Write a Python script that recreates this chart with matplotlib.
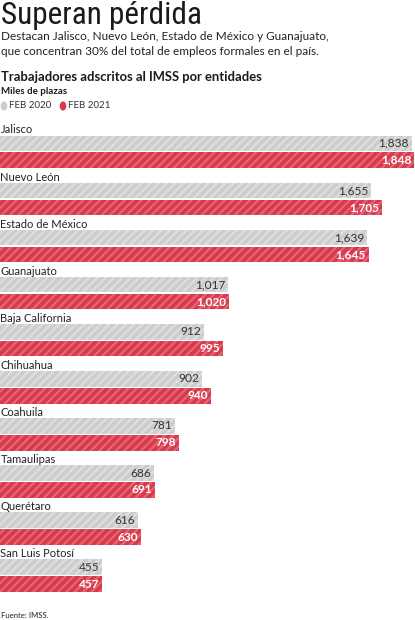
import matplotlib.pyplot as plt
from matplotlib import font_manager

# Trabajadores adscritos al IMSS (miles de plazas)
estados = ["Jalisco", "Nuevo León", "Estado de México", "Guanajuato",
           "Baja California", "Chihuahua", "Coahuila", "Tamaulipas",
           "Querétaro", "San Luis Potosí"]
feb_2020 = [1838, 1655, 1639, 1017, 912, 902, 781, 686, 616, 455]
feb_2021 = [1848, 1705, 1645, 1020, 995, 940, 798, 691, 630, 457]

GRAY = "#cdcdcd"
GRAY_HATCH = "#dedede"
RED = "#d83a4c"
RED_HATCH = "#e56676"
FONT = "Lato"

# pick a narrow face for the headline if one is installed
names = {f.name for f in font_manager.fontManager.ttflist}
TITLE_FONT = "DejaVu Sans"
for cand in ["Liberation Sans Narrow", "Roboto Condensed", "DejaVu Sans Condensed"]:
    if cand in names:
        TITLE_FONT = cand
        break

plt.rcParams["font.family"] = [FONT, "DejaVu Sans"]
plt.rcParams["hatch.linewidth"] = 1.6

W, H = 415, 620
fig = plt.figure(figsize=(W / 100, H / 100), dpi=100)
fig.patch.set_facecolor("white")

# headline block
fig.text(1 / W, 1 - 1 / H, "Superan pérdida", fontsize=22.5, va="top",
         family=TITLE_FONT, color="#1a1a1a")
fig.text(1 / W, 1 - 31 / H,
         "Destacan Jalisco, Nuevo León, Estado de México y Guanajuato,\n"
         "que concentran 30% del total de empleos formales en el país.",
         fontsize=8.5, va="top", linespacing=1.42, color="#222222")
fig.text(1 / W, 1 - 71 / H, "Trabajadores adscritos al IMSS por entidades",
         fontsize=9.4, fontweight="bold", va="top", color="#1a1a1a")
fig.text(1 / W, 1 - 87 / H, "Miles de plazas", fontsize=7,
         fontweight="bold", va="top", color="#1a1a1a")

# legend
for x0, col, lab in [(4, GRAY, "FEB 2020"), (63, RED, "FEB 2021")]:
    fig.patches.append(plt.Circle((x0 / W, 1 - 106 / H), 2.6 / W,
                                  transform=fig.transFigure, color=col))
    fig.text((x0 + 5) / W, 1 - 106 / H, lab, fontsize=7, va="center",
             color="#333333")

# bar chart: one unit per state group
gray_off, red_off, bar_h = 0.285, 0.643, 0.33
ax = fig.add_axes([0, 1 - 600 / H, 1, 485 / H])
ax.set_xlim(0, 1852)
ax.set_ylim(9.98, -0.318)
ax.axis("off")

pos = range(len(estados))
ax.barh([i + gray_off for i in pos], feb_2020, height=bar_h, color=GRAY,
        edgecolor=GRAY_HATCH, linewidth=0, hatch="////")
ax.barh([i + red_off for i in pos], feb_2021, height=bar_h, color=RED,
        edgecolor=RED_HATCH, linewidth=0, hatch="////")

for i, name in enumerate(estados):
    ax.text(2, i, name, fontsize=8, va="center", color="#222222")
    ax.annotate(f"{feb_2020[i]:,}", (feb_2020[i], i + gray_off),
                xytext=(-2, 0), textcoords="offset points", ha="right",
                va="center", fontsize=8.6, color="#333333")
    ax.annotate(f"{feb_2021[i]:,}", (feb_2021[i], i + red_off),
                xytext=(-2, 0), textcoords="offset points", ha="right",
                va="center", fontsize=8.6, fontweight="bold", color="white")

fig.text(1 / W, 1 - 616 / H, "Fuente: IMSS.", fontsize=5.6, va="center",
         color="#222222")

fig.savefig("out.png", dpi=100, facecolor="white")
